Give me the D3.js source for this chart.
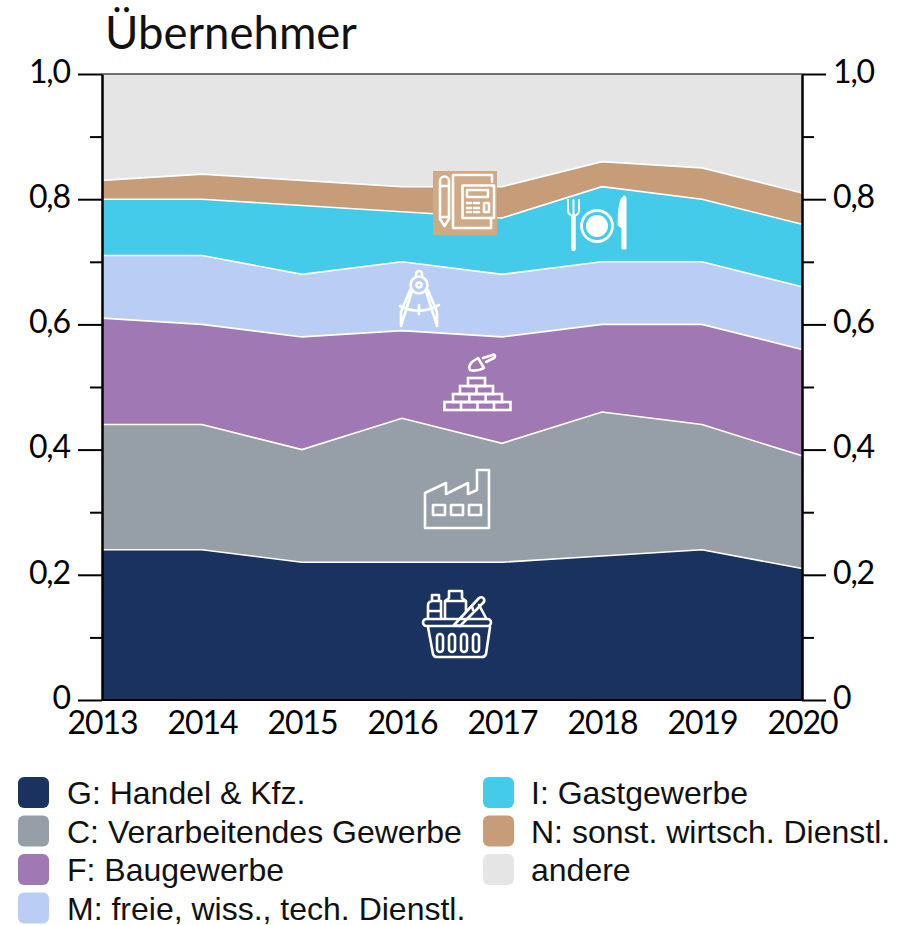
<!DOCTYPE html>
<html><head><meta charset="utf-8">
<script src="https://cdn.jsdelivr.net/npm/d3@7/dist/d3.min.js"></script>
<style>
html,body{margin:0;padding:0;background:#fff}
svg{display:block}
.ax text{font-family:Lato,sans-serif;font-size:32px;letter-spacing:-1.1px;fill:#000}
</style></head><body>
<div id="c"></div>
<script>
const years=[2013,2014,2015,2016,2017,2018,2019,2020];
const keys=["G","C","F","M","I","N","O"];
const G=[.24,.24,.22,.22,.22,.23,.24,.21];
const C=[.20,.20,.18,.23,.19,.23,.20,.18];
const F=[.17,.16,.18,.14,.17,.14,.16,.17];
const M=[.10,.11,.10,.11,.10,.10,.10,.10];
const I=[.09,.09,.11,.08,.09,.12,.10,.10];
const N=[.03,.04,.04,.04,.05,.04,.05,.05];
const O=[.17,.16,.17,.18,.18,.14,.15,.19];
const seriesValues={G,C,F,M,I,N,O};
const colors=["#1a325f","#969fa8","#a078b4","#b9cdf5","#44cbe9","#c79c78","#e5e5e5"];
const legendLabels=["G: Handel & Kfz.","C: Verarbeitendes Gewerbe","F: Baugewerbe","M: freie, wiss., tech. Dienstl.","I: Gastgewerbe","N: sonst. wirtsch. Dienstl.","andere"];
const majorTicks=[0,.2,.4,.6,.8,1];
const minorTicks=[.1,.3,.5,.7,.9];

const svg=d3.select("#c").append("svg").attr("width",907).attr("height",925);
const x=d3.scaleLinear().domain([2013,2020]).range([102,802]);
const y=d3.scaleLinear().domain([0,1]).range([700,74]);
const table=years.map((yr,i)=>{const r={year:yr};keys.forEach(k=>r[k]=seriesValues[k][i]);return r;});
const stacked=d3.stack().keys(keys)(table);
const area=d3.area().x(d=>x(d.data.year)).y0(d=>y(d[0])).y1(d=>y(Math.min(d[1],1)));
const line=d3.line().x(d=>x(d.data.year)).y(d=>y(d[1]));
svg.append("g").selectAll("path").data(stacked).join("path").attr("d",area).attr("fill",(d,i)=>colors[i]);
svg.append("g").selectAll("path").data(stacked.slice(0,6)).join("path").attr("d",line)
  .attr("fill","none").attr("stroke","#fff").attr("stroke-width",1.6);

const fmt=v=>v===0?"0":d3.format(".1f")(v).replace(".",",");
function styleAxis(g){g.select(".domain").attr("stroke","#000").attr("stroke-width",2);g.selectAll("line").attr("stroke","#000").attr("stroke-width",2);}
function yAxis(gen,cls,tx){
  const g=svg.append("g").attr("class","ax "+cls).attr("transform",`translate(${tx},0)`).call(gen);
  styleAxis(g);g.attr("font-family",null).attr("font-size",null);return g;
}
yAxis(d3.axisLeft(y).tickValues(minorTicks).tickSize(12).tickFormat("").tickSizeOuter(0),"lm",102);
yAxis(d3.axisRight(y).tickValues(minorTicks).tickSize(12).tickFormat("").tickSizeOuter(0),"rm",802);
const la=yAxis(d3.axisLeft(y).tickValues(majorTicks).tickSize(24).tickPadding(8).tickFormat(fmt).tickSizeOuter(0),"l",102);
const ra=yAxis(d3.axisRight(y).tickValues(majorTicks).tickSize(24).tickPadding(7).tickFormat(fmt).tickSizeOuter(0),"r",802);
[la,ra].forEach(a=>{a.selectAll("text").attr("dy","0.26em");});
svg.append("line").attr("x1",x(2013)).attr("x2",x(2020)).attr("y1",y(1)).attr("y2",y(1)).attr("stroke","#444").attr("stroke-width",1.5);
svg.append("line").attr("x1",x(2013)).attr("x2",x(2020)).attr("y1",y(0)).attr("y2",y(0)).attr("stroke","#000").attr("stroke-width",2);
const xa=svg.append("g").attr("class","ax").attr("transform","translate(0,700)")
  .call(d3.axisBottom(x).tickValues(years).tickFormat(d3.format("d")).tickSize(0).tickPadding(11));
xa.select(".domain").remove();xa.attr("font-family",null).attr("font-size",null);
xa.selectAll("text").attr("dy","0.71em");

svg.append("text").attr("x",105).attr("y",49).attr("font-family","Lato,sans-serif").attr("font-size",45.500).attr("fill","#111").text("Übernehmer");

const legendCols=[[18,67],[483,531]];
const rowY=[777,815.5,854,892.5];
legendLabels.forEach((t,i)=>{
  const col=i<4?0:1,row=i<4?i:i-4;
  svg.append("rect").attr("x",legendCols[col][0]).attr("y",rowY[row]).attr("width",31).attr("height",31).attr("rx",6).attr("fill",colors[i]);
  svg.append("text").attr("x",legendCols[col][1]).attr("y",rowY[row]+27).text(t)
    .attr("font-family","Liberation Sans").attr("font-size",27.5).style("font-family","'Liberation Sans',Arial,sans-serif").style("font-size","32px").attr("fill","#111");
});

const ic=svg.append("g").attr("fill","none").attr("stroke","#fff").attr("stroke-width",2.6).attr("stroke-linejoin","round").attr("stroke-linecap","round");
const p=(d,o={})=>{const e=ic.append("path").attr("d",d);for(const k in o)e.attr(k,o[k]);return e;};
ic.append("rect").attr("x",433).attr("y",171).attr("width",64).attr("height",64).attr("fill","#d0a986").attr("stroke","none");
p("M440 181a4.5 4.5 0 0 1 9 0V219L444.500 226L440 219ZM440 186H449M440 217H449");
p("M492 182V175H453V228H491V220");
p("M462.500 185.500H494V218H462.500Z");
p("M467 190H488V197H467Z");
p("M484 203H489V212H484Z");
p("M467 203H471M474 203H479M467 208H471M474 208H479M467 212H471M474 212H479");
p("M568 200V210Q568 215 573.500 216Q579 215 579 210V200M573.500 200V216",{"stroke-width":2});
p("M573.500 216V249",{"stroke-width":4.500});
ic.append("circle").attr("cx",597).attr("cy",226).attr("r",15.500).attr("stroke-width",2.800);
ic.append("circle").attr("cx",597).attr("cy",226).attr("r",11).attr("fill","#fff").attr("stroke","none");
p("M624 196Q618 198 618 225Q618 226 622 228V249H626V198Q626 196 624 196Z",{fill:"#fff","stroke-width":1});
ic.append("circle").attr("cx",419).attr("cy",285).attr("r",8.500);
ic.append("circle").attr("cx",419).attr("cy",285).attr("r",2.500);
p("M416 277V274a3 3 0 0 1 6 0V277");
p("M412 291L401 326V312L410 290M426 291L437 326L437 312L428 290");
p("M400 306Q419 316 439 305M419 305V314");
p("M470 370Q468 366 472 362L478 358L484 368Q476 372 470 370ZM483 358L494 354.500Q496 356 494 358L486 362");
const bricks=[[468,378,17,8,1],[460,386,33,8,2],[453,394,49,8,3],[444.500,402,66,8,4]];
bricks.forEach(([bx,by,w,h,n])=>{
  ic.append("rect").attr("x",bx).attr("y",by).attr("width",w).attr("height",h).attr("stroke-linejoin","miter");
  d3.range(1,n).forEach(j=>p(`M${bx+w*j/n} ${by}V${by+h}`));
});
p("M425 528V493L446 483V494L468 483V494L477 490V470H489V528Z");
[[433,505],[451,505],[469,505]].forEach(([a,b])=>ic.append("rect").attr("x",a).attr("y",b).attr("width",12).attr("height",10));
ic.append("rect").attr("x",423).attr("y",619).attr("width",68).attr("height",7).attr("rx",3.500);
p("M428 627L433 654Q434 657 437 657H482Q485 657 486 654L490 627");
[[437],[449],[461],[473]].forEach(([a])=>ic.append("rect").attr("x",a).attr("y",634).attr("width",6).attr("height",18).attr("rx",3));
p("M428 618V605Q428 602 432 601H441V618M432 601V595H439V601M428 611H441");
p("M445 618V601L449 598V591H462V598L466 601V612M445 601H466");
p("M454 625L479 598Q482 596 484 599Q485 601 483 603L460 626Z");
p("M479 605L486 618M472 606L473 610");
</script>
</body></html>
